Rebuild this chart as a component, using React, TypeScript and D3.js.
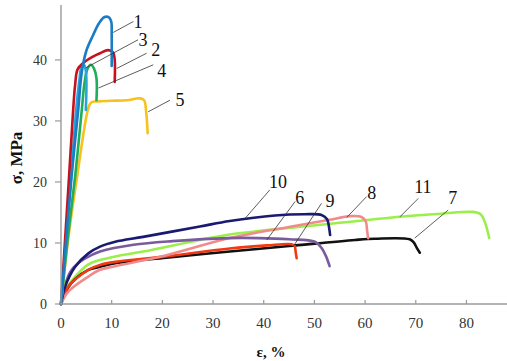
import React from "react";
import * as d3 from "d3";

type P = [number, number];

const xTicks = [0, 10, 20, 30, 40, 50, 60, 70, 80];
const yTicks = [0, 10, 20, 30, 40];

const curve1: P[] = [[0,0],[1.0,10.5],[2.1,21],[3.4,31.8],[4.1,38],[5,41.5],[6.3,44],[7.5,46],[8.5,47],[9.4,47],[9.9,46.3],[10.0,44],[10.0,39]];
const curve2: P[] = [[0,0],[0.8,10.5],[1.6,21],[2.4,31.8],[2.8,36],[3.3,38.5],[4.7,39.7],[6.2,40.5],[7.7,41.1],[9.3,41.6],[10.3,41.2],[10.6,40],[10.6,36.4]];
const curve3: P[] = [[0,0],[1.0,10.5],[2.0,21],[3.0,31.8],[3.6,36.5],[4.1,39],[4.5,39.2],[4.9,38.2],[4.9,31.8]];
const curve4: P[] = [[0,0],[1.3,10.5],[2.8,21],[4.1,31.8],[4.6,36],[5.2,38.5],[5.9,39.2],[6.5,38.6],[7.0,37],[7.0,33.4]];
const curve5: P[] = [[0,0],[1.4,10.5],[3.2,21],[5.3,31.8],[5.9,33],[7,33.2],[10,33.3],[13,33.4],[15.6,33.7],[16.4,33.4],[16.8,31.5],[17.1,28]];
const curve6: P[] = [[0,0],[0.8,3],[1.8,5.2],[3.4,6.7],[6,8.0],[7.7,8.6],[14.3,9.7],[22,10.3],[33,10.8],[39,10.8],[45,10.6],[50.1,10.2],[51.4,9.2],[52.3,7.8],[53,6.2]];
const curve7: P[] = [[0,0],[1.4,2.7],[2.8,4.1],[5.4,5.6],[7.7,6.1],[10.7,6.7],[20.8,7.6],[33.3,8.6],[45,9.5],[58,10.5],[62,10.7],[68.8,10.6],[69.6,10.1],[70.2,9.2],[70.8,8.4]];
const curve8: P[] = [[0,0],[1.4,2.0],[5.4,4.5],[7.7,5.6],[10.7,6.2],[20.8,8.0],[33.3,10.8],[45.5,12.7],[53,13.8],[57,14.4],[59.2,14.3],[60.1,13.6],[60.4,12],[60.6,10.8]];
const curve9: P[] = [[0,0],[1.4,2.8],[5.4,5.6],[7.7,6.4],[10.7,6.9],[20.8,7.8],[33.3,9.1],[40.6,9.6],[45.5,9.8],[46.1,9.5],[46.3,8.5],[46.5,7.5]];
const curve10: P[] = [[0,0],[0.8,2.8],[2.8,6.1],[5.4,8.3],[7.7,9.4],[10.7,10.2],[16.2,11.0],[27.4,12.7],[33.3,13.6],[42.2,14.5],[48,14.7],[51.4,14.6],[52.5,13.9],[52.9,12.5],[53.1,11.3]];
const curve11: P[] = [[0,0],[1.0,2.5],[2.8,4.5],[5.4,6.5],[7.7,7.2],[10.7,7.8],[16.2,8.6],[27.4,10.5],[33.3,11.4],[40.6,12.1],[53.7,13.2],[66.9,14.3],[75,14.8],[81.3,15.1],[82.8,14.7],[83.6,13.5],[84.5,10.8]];

const seriesNames = ["11", "7", "9", "8", "6", "10", "5", "4", "3", "2", "1"];
const seriesData = [curve11, curve7, curve9, curve8, curve6, curve10, curve5, curve4, curve3, curve2, curve1];
const seriesColors = ["#9bef4a", "#111111", "#f23a12", "#f28a8c", "#7a5c9e", "#1a1a72", "#f6c21e", "#1fae5a", "#27a3de", "#c4121f", "#1b7cc4"];

const labelNames = ["1", "3", "2", "4", "5", "10", "6", "9", "8", "11", "7"];
const labelPos: P[] = [[15.2,46.2],[16.2,43.3],[18.7,41.6],[19.9,38.3],[23.5,33.4],[42.8,20.0],[47.1,17.5],[53.1,17.0],[61.3,18.2],[71.4,19.2],[77.3,17.5]];
const leaderFrom: P[] = [[14.3,46.3],[15.2,43.3],[16.9,41.1],[18.2,39.2],[21.5,33.4],[41.2,18.7],[46.2,16.8],[51.4,16.5],[60.3,17.6],[70.5,17.3],[76.4,15.4]];
const leaderTo: P[] = [[10.3,44.5],[4.9,38.7],[11.0,38.6],[7.4,35.4],[17.2,31.5],[36.3,14.0],[40.6,10.5],[45.8,9.4],[56.4,14.2],[66.9,14.3],[69.8,10.8]];

export default function App() {
  const W = 507, H = 361;
  const x = d3.scaleLinear().domain([0, 88]).range([61, 507]);
  const y = d3.scaleLinear().domain([0, 49]).range([304, 5]);
  const line = d3.line<P>().x(d => x(d[0])).y(d => y(d[1])).curve(d3.curveCatmullRom.alpha(0.5));
  const serif = { fontFamily: "Liberation Serif, DejaVu Serif, serif" };
  const axisColor = "#9a9a9a";
  return (
    <svg width={W} height={H} style={{ position: "absolute", left: 0, top: 0, background: "#fff" }}>
      <g>
        {seriesData.map((d, i) => (
          <path key={seriesNames[i]} d={line(d) || ""} fill="none" stroke={seriesColors[i]} strokeWidth={2.6} strokeLinecap="round" strokeLinejoin="round" />
        ))}
      </g>
      <line x1={x(0)} x2={x(0)} y1={y(0)} y2={y(49)} stroke={axisColor} strokeWidth={1.4} />
      <line x1={x(0)} x2={x(88)} y1={y(0)} y2={y(0)} stroke={axisColor} strokeWidth={1.4} />
      {yTicks.map(t => (
        <g key={"y" + t}>
          <line x1={x(0) - 6} x2={x(0)} y1={y(t)} y2={y(t)} stroke={axisColor} strokeWidth={1.2} />
          <text x={47} y={y(t)} dy="0.35em" textAnchor="end" style={serif} fontSize={14} fill="#333">{t}</text>
        </g>
      ))}
      {xTicks.map(t => (
        <g key={"x" + t}>
          {t > 0 && <line x1={x(t)} x2={x(t)} y1={y(0)} y2={y(0) - 4} stroke={axisColor} strokeWidth={1.2} />}
          <text x={x(t)} y={328} textAnchor="middle" style={serif} fontSize={15} fill="#333">{t}</text>
        </g>
      ))}
      <text transform="translate(22,158) rotate(-90)" textAnchor="middle" style={serif} fontSize={17} fontWeight="bold" fill="#111">σ, MPa</text>
      <text x={271} y={357} textAnchor="middle" style={serif} fontSize={15} fontWeight="bold" fill="#111">ε, %</text>
      {leaderFrom.map((f, i) => (
        <line key={"l" + i} x1={x(f[0])} y1={y(f[1])} x2={x(leaderTo[i][0])} y2={y(leaderTo[i][1])} stroke="#333" strokeWidth={0.8} />
      ))}
      {labelNames.map((n, i) => (
        <text key={"t" + n} x={x(labelPos[i][0])} y={y(labelPos[i][1])} dy="0.35em" textAnchor="middle" style={serif} fontSize={18} fill="#111">{n}</text>
      ))}
    </svg>
  );
}
